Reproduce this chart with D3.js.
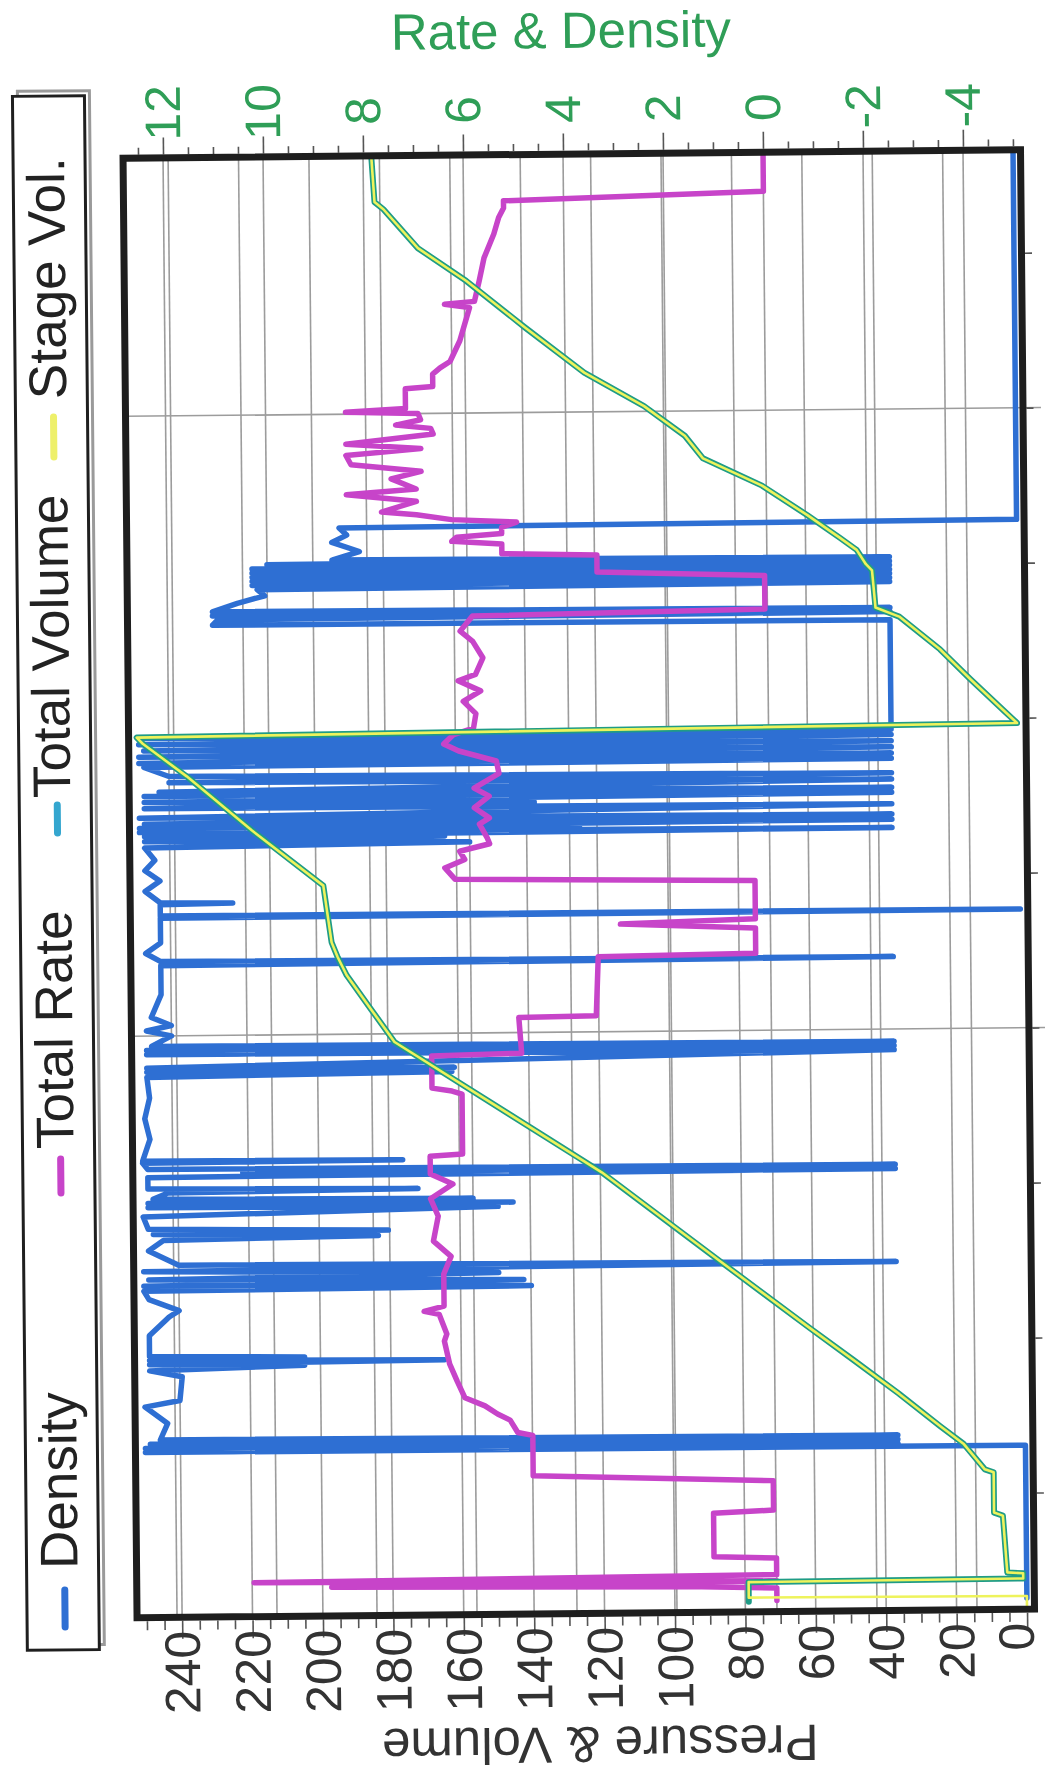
<!DOCTYPE html>
<html lang="en">
<head>
<meta charset="utf-8">
<title>Rate &amp; Density / Pressure &amp; Volume</title>
<script src="https://cdn.jsdelivr.net/npm/d3@7"></script>
<style type="text/css">
  body { margin: 0; background: #fff; }
  svg { display: block; font-family: 'Liberation Sans', Arial, sans-serif; }
</style>
</head>
<body>
<div id="chart"></div>
<script>

/* Data (time in minutes) */
/* ========================================= */

// Total Rate (bbl/min) - right axis "Rate & Density"
var totalRate = [
  [4.8,0.0],[6.0,0.0],[6.2,1.5],[6.5,8.9],[6.7,0.0],[7.0,10.45],[7.3,0.0],[8.9,0.0],[9.1,1.25],[13.3,1.25],
  [13.55,0.05],[16.4,0.05],[17.1,4.85],[21.0,4.85],[21.3,5.15],[22.5,5.3],[23.1,5.55],[23.9,5.8],[24.7,6.2],
  [26.3,6.35],[28.0,6.5],[30.2,6.6],[30.9,6.55],[32.8,6.7],[33.1,7.0],[33.6,6.6],[36.7,6.6],[38.4,6.45],
  [39.9,6.8],[42.3,6.7],[44.0,6.85],[45.4,6.4],[46.4,6.85],[48.1,6.85],[48.3,6.2],[54.1,6.2],[54.4,6.4],
  [54.7,6.8],[57.8,6.8],[58.0,5.0],[61.45,5.05],[61.55,3.5],[67.25,3.45],[67.45,0.3],[69.9,0.3],[70.4,3.0],
  [70.8,0.3],[74.5,0.3],[74.9,6.3],[76.0,6.5],[76.8,6.1],[77.6,6.2],[78.3,5.6],[78.9,5.65],[80.2,5.8],
  [80.8,5.6],[81.8,5.9],[82.9,5.6],[83.7,5.9],[85.1,5.4],[86.3,5.45],[87.3,6.2],[88.0,6.5],[88.9,6.3],
  [89.5,5.9],[90.9,5.85],[92.1,6.1],[93.1,5.75],[94.1,6.2],[94.7,5.85],[96.3,5.7],[97.9,5.9],[98.9,6.15],
  [100.35,5.9],[100.75,0.05],[104.0,0.05],[104.5,3.4],[106.15,3.4],[106.35,5.3],[107.3,5.3],[107.6,6.3],
  [108.0,6.2],[108.3,5.3],[108.9,5.3],[109.4,5.0],[109.7,6.3],[110.2,7.0],[110.5,7.7],[111.5,7.0],[112.2,8.4],
  [112.7,7.0],[113.7,7.5],[114.4,6.9],[115.1,8.3],[116.0,8.4],[116.6,6.9],[117.1,8.4],[118.0,6.65],[118.55,6.7],
  [118.9,7.4],[119.4,6.9],[120.0,6.95],[120.2,8.4],[120.5,7.2],[122.4,7.2],[122.6,6.65],[123.8,6.65],[124.4,6.5],
  [125.0,6.3],[127.0,6.1],[130.2,5.9],[130.55,6.4],[130.8,5.8],[132.8,5.7],[135.0,5.6],[137.3,5.4],[138.9,5.3],
  [139.8,5.2],[140.5,5.2],[141.2,0.0],[145.5,0.0]
];

// Density - right axis "Rate & Density"
var density = [
  [4.8,-5.0],[19.6,-5.0],
  [19.7,12.6],[19.9,-2.45],[20.1,12.6],[20.3,-2.45],[20.5,12.5],[20.7,-2.45],[20.9,12.3],
  [22.5,12.15],[24.1,12.6],[24.7,11.9],[27.0,11.85],[27.6,12.5],
  [28.0,9.4],[28.2,12.5],[28.4,6.6],[28.6,12.5],[28.8,9.4],[29.0,12.5],
  [31.0,12.5],[32.8,12.1],[33.4,11.9],[34.5,12.5],[35.3,12.6],
  [35.5,4.85],[35.8,12.6],[36.1,5.0],[36.4,12.5],[36.8,5.5],[37.2,12.6],[37.5,-2.45],[37.8,11.9],
  [39.2,12.5],[40.2,12.2],[40.5,7.9],[40.8,12.4],[41.0,7.7],[41.3,12.5],
  [42.5,12.6],[43.2,5.5],[43.4,12.5],[43.6,5.2],[43.8,12.5],[44.0,6.0],[44.2,12.4],
  [44.8,12.1],[45.0,7.1],[45.2,12.5],
  [46.3,12.5],[46.5,-2.45],[46.7,10.6],[46.9,-2.45],[47.1,12.5],[47.7,12.6],[47.8,7.4],[47.9,12.6],
  [50.0,12.45],[52.0,12.55],[54.0,12.45],[56.0,12.5],
  [56.3,6.4],[56.5,12.5],[56.7,6.35],[56.9,12.5],
  [58.0,-2.45],[58.2,12.5],[58.4,-2.45],[58.6,12.5],[58.8,-2.45],[59.0,12.4],
  [60.0,12.0],[60.5,12.5],[61.0,12.0],[61.8,12.4],[64.0,12.2],[66.8,12.2],
  [67.0,-2.45],[67.2,12.2],[68.0,12.5],[69.0,12.2],
  [71.4,12.2],[71.5,-5.0],[71.6,12.2],
  [72.7,12.2],[72.8,10.75],[72.9,12.2],
  [74.0,12.5],[75.0,12.2],[76.0,12.5],[77.0,12.3],[78.2,12.5],
  [78.5,6.0],[78.8,12.5],[79.1,6.5],[79.3,12.5],
  [79.5,-2.45],[79.7,12.6],[79.9,3.8],[80.1,12.6],[80.3,-2.45],[80.5,12.5],[80.8,-2.45],[81.1,12.6],
  [81.8,-2.45],[82.0,12.5],[82.3,4.7],[82.6,12.5],[82.9,-2.45],[83.2,12.5],[83.4,-2.45],[83.6,12.2],
  [84.2,-2.45],[84.5,12.0],[84.8,-2.45],[85.1,12.0],
  [86.0,12.5],[86.2,-2.45],[86.4,12.6],[86.7,-2.45],[87.0,12.6],[87.3,-2.45],[87.6,12.5],[87.9,-2.45],
  [88.2,12.6],[88.5,-2.45],[88.8,12.6],[89.0,-2.45],
  [99.6,-2.45],[99.7,11.1],[100.2,11.0],[100.4,-2.45],[100.6,11.1],[100.8,-2.45],[101.0,11.1],
  [101.8,10.6],[102.5,10.05],[103.1,10.2],
  [103.3,-2.45],[103.5,10.3],[103.7,-2.45],[103.9,10.3],[104.1,-2.45],[104.3,10.3],[104.5,-2.45],
  [104.7,10.3],[104.9,-2.45],[105.1,10.3],[105.3,-2.45],[105.5,10.0],[105.7,-2.45],[105.9,8.7],
  [106.7,8.15],[107.6,8.7],[108.3,8.4],[109.0,8.55],[109.2,-5.0],[145.5,-5.0]
];

// Total Volume (bbl) - left axis "Pressure & Volume"
var totalVolume = [
  [4.7,79],[6.6,79],[6.7,1.0],[7.2,1.0],[7.3,5.5],[12.8,6.6],[13.1,9.1],[17.0,9.1],[17.3,11.6],
  [19.8,17.6],[21.5,24.1],[24.7,35.8],[28.0,48.6],[31.1,60.8],[37.65,86.1],[46.4,119.6],[59.2,178.1],
  [62.4,184.7],[65.7,191.5],[67.45,194],[68.9,195.7],[74.4,197.9],[79.8,218],[85.1,236.4],[88.3,248.8],
  [88.9,250.5],[89.5,0.4],[90.5,3.5],[93.8,13.6],[96.7,22.1],[99.9,33.6],[100.8,40.3],[104.4,41.2],
  [105.0,42.9],[106.4,45.5],[107.6,50.3],[109.8,59.4],[112.7,72.2],[115.4,88.9],[117.6,94],[120.5,105.5],
  [123.8,122.4],[128.2,139],[132.8,155.7],[136.0,169.3],[139.8,179],[140.5,181.5],[145.5,182.4]
];

// Stage Vol. - starts from 0, then runs on top of the total volume trace
var stageVolStart = [[3.8,0],[5.0,0],[5.1,79],[6.6,79]];
var stageVol = stageVolStart.concat(totalVolume.slice(2));

// Axis ticks
var rateTicks = [-4, -2, 0, 2, 4, 6, 8, 10, 12];
var pressureTicks = [0, 20, 40, 60, 80, 100, 120, 140, 160, 180, 200, 220, 240];
var timeTicks = [15, 30, 45, 60, 75, 90, 105, 120, 135];
var timeGrid = [60, 120];

var legendItems = [
  { name: 'Density',      color: '#2e6fd3', y0: 1622, y1: 1585, text: 1564 },
  { name: 'Total Rate',   color: '#c744c9', y0: 1188, y1: 1154, text: 1144 },
  { name: 'Total Volume', color: '#34a6cf', y0: 828,  y1: 800,  text: 793 },
  { name: 'Stage Vol.',   color: '#eef06a', y0: 452,  y1: 412,  text: 394 }
];


/* Set up */
/* ====== */

var width = 1045,
    height = 1784,
    frame = { left: 130, right: 1027.5, top: 154, bottom: 1613.5 },
    green = '#2f9e57',
    gridColor = '#9c9c9c';

var svg = d3.select('#chart').append('svg')
    .attr('width', width)
    .attr('height', height);

// the scanned page is turned a little
var page = svg.append('g')
    .attr('transform', 'rotate(-0.55, 577, 881)');

// Scales - the chart lies on its side: values run right-to-left, time bottom-to-top
var xPressure = d3.scaleLinear().domain([252.8, -2.13]).range([frame.left, frame.right]);
var xRate = d3.scaleLinear().domain([12.8, -5.15]).range([frame.left, frame.right]);
var yTime = d3.scaleLinear().domain([3.72, 144.97]).range([frame.bottom, frame.top]);

page.append('clipPath').attr('id', 'plot-clip')
  .append('rect')
    .attr('x', frame.left).attr('y', frame.top)
    .attr('width', frame.right - frame.left)
    .attr('height', frame.bottom - frame.top);


/* Gridlines */
/* --------- */

var grid = page.append('g').attr('stroke', gridColor).attr('stroke-width', 1.6);

grid.selectAll('.g-rate').data(rateTicks).enter().append('line')
    .attr('x1', d => xRate(d)).attr('x2', d => xRate(d))
    .attr('y1', frame.top).attr('y2', frame.bottom);

grid.selectAll('.g-press').data(pressureTicks.filter(d => d > 0)).enter().append('line')
    .attr('x1', d => xPressure(d)).attr('x2', d => xPressure(d))
    .attr('y1', frame.top).attr('y2', frame.bottom);

grid.selectAll('.g-time').data(timeGrid).enter().append('line')
    .attr('x1', frame.left).attr('x2', frame.right + 18)
    .attr('y1', d => yTime(d)).attr('y2', d => yTime(d));


/* Axes (ticks only, labels drawn rotated below) */
/* -------------------------------------------- */

function styleAxis(g) {
  g.select('.domain').remove();
  g.selectAll('.tick line').attr('stroke', '#555').attr('stroke-width', 1.6);
}

var rateMinor = d3.range(-5, 12.51, 0.5).filter(d => rateTicks.indexOf(d) < 0);
page.append('g')
    .attr('transform', 'translate(0,' + (frame.top - 3.5) + ')')
    .call(d3.axisTop(xRate).tickValues(rateMinor).tickSize(7).tickFormat(''))
    .call(styleAxis);
page.append('g')
    .attr('transform', 'translate(0,' + (frame.top - 3.5) + ')')
    .call(d3.axisTop(xRate).tickValues(rateTicks).tickSize(17).tickFormat(''))
    .call(styleAxis);

var pressMinor = d3.range(0, 251, 5).filter(d => d % 20 !== 0);
page.append('g')
    .attr('transform', 'translate(0,' + (frame.bottom + 3.5) + ')')
    .call(d3.axisBottom(xPressure).tickValues(pressMinor).tickSize(9).tickFormat(''))
    .call(styleAxis);
page.append('g')
    .attr('transform', 'translate(0,' + (frame.bottom + 3.5) + ')')
    .call(d3.axisBottom(xPressure).tickValues(pressureTicks).tickSize(18).tickFormat(''))
    .call(styleAxis);

page.append('g')
    .attr('transform', 'translate(' + (frame.right + 3.5) + ',0)')
    .call(d3.axisRight(yTime).tickValues(timeTicks).tickSize(7).tickFormat(''))
    .call(styleAxis);


/* Series */
/* ------ */

var plot = page.append('g').attr('clip-path', 'url(#plot-clip)');

var rateLine = d3.line().x(d => xRate(d[1])).y(d => yTime(d[0]));
var volLine = d3.line().x(d => xPressure(d[1])).y(d => yTime(d[0]));

function drawLine(data, gen, color, w) {
  plot.append('path')
      .datum(data)
      .attr('d', gen)
      .attr('fill', 'none')
      .attr('stroke', color)
      .attr('stroke-width', w)
      .attr('stroke-linejoin', 'round')
      .attr('stroke-linecap', 'round');
}

drawLine(density, rateLine, '#2e6fd3', 5.5);
drawLine(totalRate, rateLine, '#c744c9', 5.5);
drawLine(totalVolume, volLine, '#1f9c86', 6);
drawLine(stageVol, volLine, '#eef35c', 2.6);

// Plot frame
page.append('rect')
    .attr('x', frame.left).attr('y', frame.top)
    .attr('width', frame.right - frame.left)
    .attr('height', frame.bottom - frame.top)
    .attr('fill', 'none')
    .attr('stroke', '#1e1e1e')
    .attr('stroke-width', 7);


/* Labels */
/* ------ */

page.selectAll('.lbl-rate').data(rateTicks).enter().append('text')
    .attr('transform', d => 'translate(' + xRate(d) + ',109) rotate(-90)')
    .attr('text-anchor', 'middle')
    .attr('dy', '0.35em')
    .attr('font-size', 50)
    .attr('fill', green)
    .text(d => String(d));

// the "0" sits on the page edge, nudge it in a little
page.selectAll('.lbl-press').data(pressureTicks).enter().append('text')
    .attr('transform', d => 'translate(' + (xPressure(d) - (d === 0 ? 11 : 0)) + ',1627) rotate(-90)')
    .attr('text-anchor', 'end')
    .attr('dy', '0.35em')
    .attr('font-size', 50)
    .attr('fill', '#333')
    .text(d => String(d));

page.append('text')
    .attr('x', 569).attr('y', 48)
    .attr('text-anchor', 'middle')
    .attr('font-size', 51)
    .attr('fill', green)
    .text('Rate & Density');

page.append('text')
    .attr('transform', 'translate(592,1745) rotate(180)')
    .attr('text-anchor', 'middle')
    .attr('dy', '0.35em')
    .attr('font-size', 51)
    .attr('fill', '#333')
    .text('Pressure & Volume');


/* Legend */
/* ------ */

var legend = page.append('g');

legend.append('rect')
    .attr('x', 25).attr('y', 86).attr('width', 72).attr('height', 1554)
    .attr('fill', 'none').attr('stroke', '#9a9a9a').attr('stroke-width', 3);

legend.append('rect')
    .attr('x', 20).attr('y', 91).attr('width', 72).attr('height', 1554)
    .attr('fill', '#fff').attr('stroke', '#1f1f1f').attr('stroke-width', 3);

var items = legend.selectAll('.item').data(legendItems).enter().append('g');

items.append('line')
    .attr('x1', 58).attr('x2', 58)
    .attr('y1', d => d.y0).attr('y2', d => d.y1)
    .attr('stroke', d => d.color)
    .attr('stroke-width', 7)
    .attr('stroke-linecap', 'round');

items.append('text')
    .attr('transform', d => 'translate(71,' + d.text + ') rotate(-90)')
    .attr('font-size', 53)
    .attr('fill', '#222')
    .text(d => d.name);

</script>
</body>
</html>
